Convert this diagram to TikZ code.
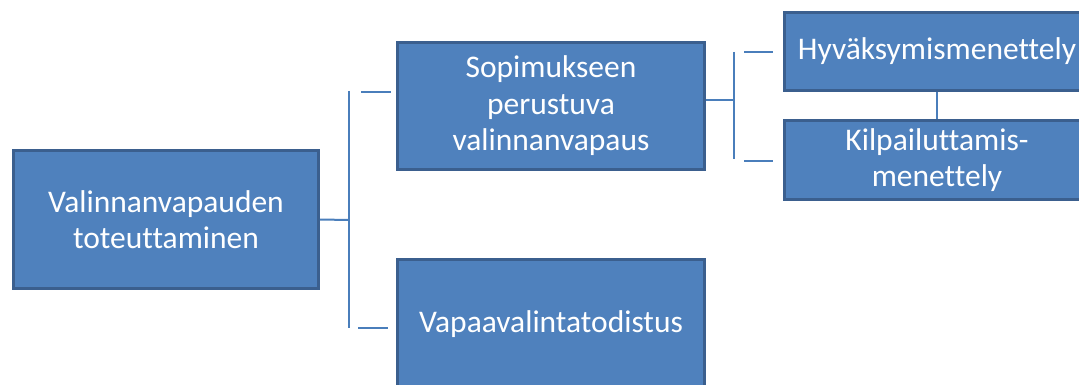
\documentclass[tikz,border=0pt]{standalone}
\usepackage{fontspec}
\setmainfont[Ligatures=NoCommon]{Carlito}
\definecolor{boxfill}{HTML}{4F81BD}
\definecolor{boxline}{HTML}{3B5F8E}
\definecolor{linkline}{HTML}{4A7EBB}

\begin{document}
\begin{tikzpicture}[x=1pt,y=-1pt]
	\tikzstyle{every node}=[font=\fontsize{31.5}{36.5}\selectfont, text=white, align=center, inner sep=0pt]
	\tikzstyle{box}=[draw=boxline, fill=boxfill, line width=3pt]
	\tikzstyle{link}=[draw=linkline, line width=2pt]
	\clip (0,0) rectangle (1079,385);
	\fill[white] (0,0) rectangle (1079,385);
	\draw (166,219.5) node (toteutus) [box, minimum width=305pt, minimum height=138pt] {Valinnanvapauden\\toteuttaminen};
	\draw (551,106) node (sopimus) [box, minimum width=307pt, minimum height=127pt] {Sopimukseen\\perustuva\\valinnanvapaus};
	\draw (551,324) node (vapaa) [box, minimum width=307pt, minimum height=130pt] {Vapaavalintatodistus};
	\draw (937,51.5) node (hyvaks) [box, minimum width=305pt, minimum height=78pt] {Hyväksymismenettely};
	\draw (937,160) node (kilpail) [box, minimum width=305pt, minimum height=79pt] {Kilpailuttamis-\\menettely};
	\coordinate (j1) at (349,220);
	\coordinate (j1t) at (349,91);
	\coordinate (j1b) at (349,328);
	\coordinate (s1a) at (361,92);
	\coordinate (s1b) at (391,92);
	\coordinate (s2a) at (358,328);
	\coordinate (s2b) at (388,328);
	\coordinate (j2) at (734,100);
	\coordinate (j2t) at (734,52);
	\coordinate (j2b) at (734,159);
	\coordinate (s3a) at (744,52);
	\coordinate (s3b) at (773,52);
	\coordinate (s4a) at (744,161);
	\coordinate (s4b) at (773,161);
	\draw[link] (toteutus.east) -- (j1);
	\draw[link] (j1t) -- (j1b);
	\draw[link] (s1a) -- (s1b);
	\draw[link] (s2a) -- (s2b);
	\draw[link] ([yshift=6pt]sopimus.east) -- (j2);
	\draw[link] (j2t) -- (j2b);
	\draw[link] (s3a) -- (s3b);
	\draw[link] (s4a) -- (s4b);
	\draw[link] (hyvaks.south) -- (kilpail.north);
\end{tikzpicture}
\end{document}
